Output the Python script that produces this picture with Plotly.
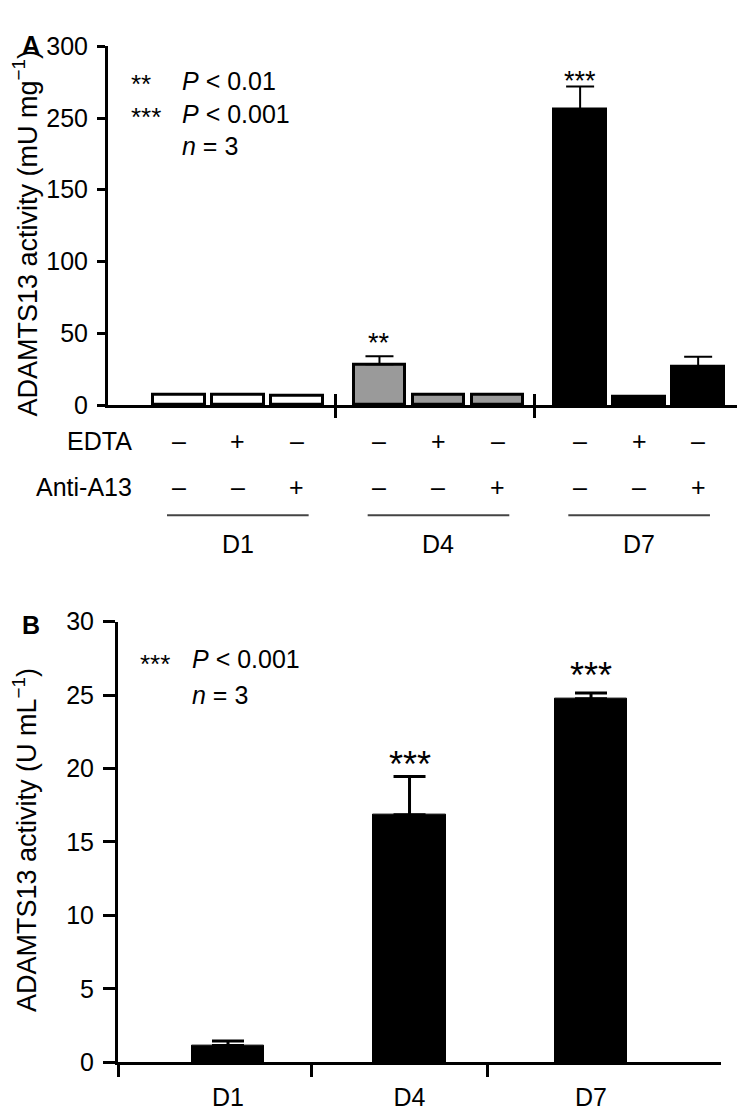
import plotly.graph_objects as go

W, H = 745, 1120
FONT = "Liberation Sans, Arial, Helvetica, sans-serif"

# ---------------- Panel A data ----------------
a_days = ["D1", "D4", "D7"]
a_edta = ["–", "+", "–"]
a_anti = ["–", "–", "+"]
a_d1 = [7, 7, 6.5]
a_d4 = [28.5, 7.5, 7.5]
a_d7 = [256, 6, 26.5]
a_d1_err = [None, None, None]
a_d4_err = [5.6, None, None]
a_d7_err = [16, None, 7.2]
a_d1_sig = ["", "", ""]
a_d4_sig = ["**", "", ""]
a_d7_sig = ["***", "", ""]
a_group_colors = ["#ffffff", "#9a9a9a", "#000000"]
a_ticks_low = [0, 50, 100, 150]
a_ticks_high = [250, 300]

# ---------------- Panel B data ----------------
b_days = ["D1", "D4", "D7"]
b_vals = [1.15, 16.85, 24.75]
b_err = [0.3, 2.6, 0.4]
b_sig = ["", "***", "***"]
b_ticks = [0, 5, 10, 15, 20, 25, 30]


def px_x(p):
    return p / W


def px_y(p):
    return 1 - p / H


# positions for panel A (3 groups of 3 bars with a wider gap between groups)
GROUP_STEP = 3.4
a_vals = [a_d1, a_d4, a_d7]
a_errs = [a_d1_err, a_d4_err, a_d7_err]
a_sigs = [a_d1_sig, a_d4_sig, a_d7_sig]
a_x, a_y, a_col = [], [], []
e_x, e_y, e_v = [], [], []
sig_list = []
for g in range(3):
    for i in range(3):
        pos = g * GROUP_STEP + i
        a_x.append(pos)
        a_y.append(a_vals[g][i])
        a_col.append(a_group_colors[g])
        if a_errs[g][i] is not None:
            e_x.append(pos)
            e_y.append(a_vals[g][i])
            e_v.append(a_errs[g][i])
        if a_sigs[g][i]:
            sig_list.append((pos, a_vals[g][i] + (a_errs[g][i] or 0), a_sigs[g][i]))

fig = go.Figure()

for xa, ya in (("x", "y"), ("x2", "y2")):
    fig.add_trace(go.Bar(
        x=a_x, y=a_y, width=0.88,
        marker=dict(color=a_col, line=dict(color="black", width=3)),
        xaxis=xa, yaxis=ya, showlegend=False, hoverinfo="skip"))
    fig.add_trace(go.Scatter(
        x=e_x, y=e_y, mode="markers", marker=dict(size=1, color="rgba(0,0,0,0)"),
        error_y=dict(type="data", array=e_v, arrayminus=[0] * len(e_v), symmetric=False,
                     color="black", thickness=2, width=14),
        xaxis=xa, yaxis=ya, showlegend=False, hoverinfo="skip"))

# Panel B
b_x = list(range(len(b_days)))
fig.add_trace(go.Bar(
    x=b_x, y=b_vals, width=0.4,
    marker=dict(color="black", line=dict(color="black", width=1)),
    xaxis="x3", yaxis="y3", showlegend=False, hoverinfo="skip"))
fig.add_trace(go.Scatter(
    x=b_x, y=b_vals, mode="markers", marker=dict(size=1, color="rgba(0,0,0,0)"),
    error_y=dict(type="data", array=b_err, arrayminus=[0] * len(b_err), symmetric=False,
                 color="black", thickness=3, width=16),
    xaxis="x3", yaxis="y3", showlegend=False, hoverinfo="skip"))

# invisible helper traces so the overlay axes get drawn
fig.add_trace(go.Scatter(x=[0], y=[0], mode="markers", marker=dict(size=1, opacity=0),
                         xaxis="x4", yaxis="y", showlegend=False, hoverinfo="skip"))
fig.add_trace(go.Scatter(x=[0], y=[0], mode="markers", marker=dict(size=1, opacity=0),
                         xaxis="x5", yaxis="y3", showlegend=False, hoverinfo="skip"))

tickfont = dict(family=FONT, size=25, color="black")
A_XRANGE = [-1.2, 9.56]
A_XDOM = [px_x(100), px_x(735)]
B_XRANGE = [-0.606, 2.716]
B_XDOM = [px_x(110), px_x(713)]

# broken y axis in panel A: 0-150 below, 200-300 above (small overlap hides the seam)
A_PX_PER_UNIT = (393 - 172) / 150.0
OVER = 1.0 / A_PX_PER_UNIT

axis_common = dict(showgrid=False, zeroline=False, showline=True, linecolor="black",
                   linewidth=3, tickcolor="black", tickfont=tickfont)

fig.update_layout(
    width=W, height=H, margin=dict(l=0, r=0, t=0, b=0),
    paper_bgcolor="white", plot_bgcolor="rgba(0,0,0,0)",
    font=dict(family=FONT, color="black"),
    bargap=0,
    xaxis=dict(**axis_common, domain=A_XDOM, range=A_XRANGE, anchor="y",
               ticks="outside", tickvals=[2.66, 6.03, 9.56], ticklen=10, tickwidth=2.5,
               showticklabels=False),
    xaxis4=dict(domain=A_XDOM, range=A_XRANGE, anchor="y", overlaying="x",
                showgrid=False, zeroline=False, showline=False,
                ticks="inside", tickvals=[2.66, 6.03], ticklen=11, tickwidth=2.5,
                tickcolor="black", showticklabels=False),
    xaxis2=dict(domain=A_XDOM, range=A_XRANGE, anchor="y2", visible=False),
    yaxis=dict(**axis_common, domain=[px_y(393), px_y(171)], range=[0, 150 + OVER], anchor="x",
               ticks="outside", tickvals=a_ticks_low, ticklen=8, tickwidth=2.5,
               ticklabelstandoff=4),
    yaxis2=dict(**axis_common, domain=[px_y(173), px_y(25)], range=[200 - OVER, 300],
                anchor="x2", ticks="outside", tickvals=a_ticks_high, ticklen=8,
                tickwidth=2.5, ticklabelstandoff=4),
    xaxis3=dict(**axis_common, domain=B_XDOM, range=B_XRANGE, anchor="y3",
                ticks="outside", tickvals=[-0.606, 0.46, 1.43], ticklen=12, tickwidth=3,
                showticklabels=False),
    xaxis5=dict(domain=B_XDOM, range=B_XRANGE, anchor="y3", overlaying="x3",
                showgrid=False, zeroline=False, showline=False, ticks="",
                tickvals=b_x, ticktext=b_days, tickfont=tickfont, ticklabelstandoff=18),
    yaxis3=dict(**axis_common, domain=[px_y(1067), px_y(615)], range=[0, 30], anchor="x3",
                ticks="outside", tickvals=b_ticks, ticklen=12, tickwidth=3,
                ticklabelstandoff=4),
)

ann = []


def text(xp, yp, s, size=25, xanchor="left", yanchor="middle", **kw):
    ann.append(dict(x=px_x(xp), y=px_y(yp), xref="paper", yref="paper", text=s,
                    showarrow=False, xanchor=xanchor, yanchor=yanchor,
                    font=dict(family=FONT, size=size, color="black"), **kw))


# Axis titles
text(17, 217, "ADAMTS13 activity (mU mg<sup>−1</sup>)", size=27, xanchor="center",
     textangle=-90)
text(17, 839, "ADAMTS13 activity (U mL<sup>−1</sup>)", size=27, xanchor="center",
     textangle=-90)

# Panel labels
text(12, 24, "<b>A</b>", size=25)
text(12, 618, "<b>B</b>", size=25)

# Panel A legend
text(121, 64, "**", size=26)
text(172, 60, "<i>P</i> &lt; 0.01")
text(121, 97, "***", size=26)
text(172, 94, "<i>P</i> &lt; 0.001")
text(172, 127, "<i>n</i> = 3")

# Panel B legend
text(130, 658, "***", size=26)
text(182, 653, "<i>P</i> &lt; 0.001")
text(182, 690, "<i>n</i> = 3")

# Panel A significance marks
for pos, top, s in sig_list:
    yref = "y2" if top > 150 else "y"
    shift = 6 if top > 150 else 13
    ann.append(dict(x=pos, y=top, xref="x", yref=yref, text=s, showarrow=False,
                    xanchor="center", yanchor="middle", yshift=shift,
                    font=dict(family=FONT, size=27, color="black")))

# Panel B significance marks
for xi, v, e, s in zip(b_x, b_vals, b_err, b_sig):
    if s:
        ann.append(dict(x=xi, y=v + e, xref="x3", yref="y3", text=s, showarrow=False,
                        xanchor="center", yanchor="middle", yshift=12 if xi == 1 else 17,
                        font=dict(family=FONT, size=36, color="black")))

# Panel A condition rows
text(126, 430, "EDTA", xanchor="right")
text(126, 477, "Anti-A13", xanchor="right")
shapes = []
for g in range(3):
    for i in range(3):
        pos = g * GROUP_STEP + i
        ann.append(dict(x=pos, y=px_y(430), xref="x", yref="paper", text=a_edta[i],
                        showarrow=False, xanchor="center", yanchor="middle",
                        font=dict(family=FONT, size=25, color="black")))
        ann.append(dict(x=pos, y=px_y(477), xref="x", yref="paper", text=a_anti[i],
                        showarrow=False, xanchor="center", yanchor="middle",
                        font=dict(family=FONT, size=25, color="black")))
    center = g * GROUP_STEP + 1
    shapes.append(dict(type="line", xref="x", yref="paper", x0=center - 1.2, x1=center + 1.2,
                       y0=px_y(506), y1=px_y(506), line=dict(color="#444444", width=2)))
    ann.append(dict(x=center, y=px_y(535), xref="x", yref="paper", text=a_days[g],
                    showarrow=False, xanchor="center", yanchor="middle",
                    font=dict(family=FONT, size=25, color="black")))

fig.update_layout(annotations=ann, shapes=shapes)
fig.write_html("out.html")
